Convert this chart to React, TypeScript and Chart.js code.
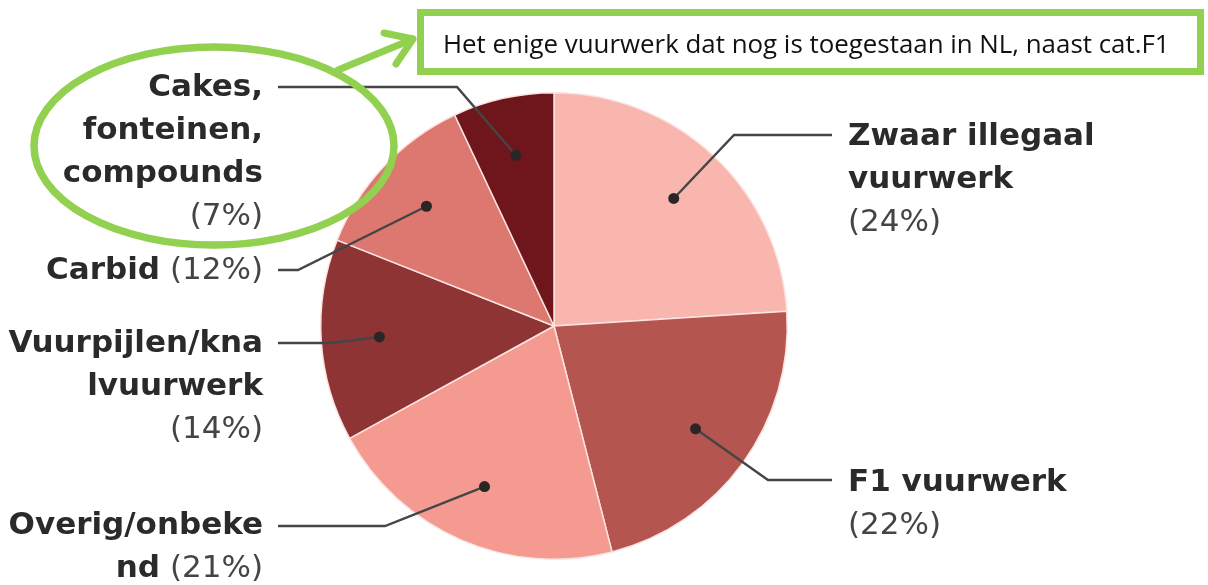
import React, { useEffect, useRef } from "react";
import { Chart, registerables } from "chart.js";

Chart.register(...registerables);

// ---- data ----
const categories = [
  "Zwaar illegaal vuurwerk",
  "F1 vuurwerk",
  "Overig/onbekend",
  "Vuurpijlen/knalvuurwerk",
  "Carbid",
  "Cakes, fonteinen, compounds",
];
const values = [24, 22, 21, 14, 12, 7];
const labelLines = [
  ["Zwaar illegaal", "vuurwerk"],
  ["F1 vuurwerk"],
  ["Overig/onbeke", "nd"],
  ["Vuurpijlen/kna", "lvuurwerk"],
  ["Carbid"],
  ["Cakes,", "fonteinen,", "compounds"],
];
const pctInline = [false, false, true, false, true, false];
const noteText = "Het enige vuurwerk dat nog is toegestaan in NL, naast cat.F1";

// ---- styles / layout ----
const colors = ["#f8b6ae", "#b55550", "#f59a91", "#8f3434", "#dc786f", "#6e161c"];
const layout = [
  { side: "right", x: 848, base: 145, leadY: 135, elbowX: 734 },
  { side: "right", x: 848, base: 491, leadY: 480, elbowX: 768 },
  { side: "left", x: 263, base: 534, leadY: 526, elbowX: 385 },
  { side: "left", x: 263, base: 352, leadY: 343, elbowX: 330 },
  { side: "left", x: 263, base: 279, leadY: 270, elbowX: 298 },
  { side: "left", x: 263, base: 96, leadY: 87, elbowX: 457 },
];
const LINE_H = 43;
const BOLD = "bold 31px 'DejaVu Sans'";
const REG = "31px 'DejaVu Sans'";
const GREEN = "#92d050";

const overlayPlugin = {
  id: "overlay",
  afterDatasetsDraw(chart: any) {
    const ctx: CanvasRenderingContext2D = chart.ctx;
    const meta = chart.getDatasetMeta(0);
    ctx.save();
    meta.data.forEach((arc: any, i: number) => {
      const p = arc.getProps(["x", "y", "startAngle", "endAngle", "outerRadius"], true);
      const mid = (p.startAngle + p.endAngle) / 2;
      const r = p.outerRadius * 0.75;
      const dx = p.x + Math.cos(mid) * r;
      const dy = p.y + Math.sin(mid) * r;
      const L = layout[i];
      const endX = L.side === "right" ? L.x - 16 : L.x + 15;
      // leader line
      ctx.strokeStyle = "#454545";
      ctx.lineWidth = 2.4;
      ctx.beginPath();
      ctx.moveTo(dx, dy);
      ctx.lineTo(L.elbowX, L.leadY);
      ctx.lineTo(endX, L.leadY);
      ctx.stroke();
      // dot
      ctx.fillStyle = "#2a2626";
      ctx.beginPath();
      ctx.arc(dx, dy, 5.5, 0, Math.PI * 2);
      ctx.fill();
      // text lines
      const pct = `(${values[i]}%)`;
      const lines: { t: string; b: boolean }[][] = labelLines[i].map((t) => [{ t, b: true }]);
      if (pctInline[i]) lines[lines.length - 1].push({ t: " " + pct, b: false });
      else lines.push([{ t: pct, b: false }]);
      ctx.textBaseline = "alphabetic";
      ctx.textAlign = "left";
      lines.forEach((segs, li) => {
        let total = 0;
        segs.forEach((s) => {
          ctx.font = s.b ? BOLD : REG;
          total += ctx.measureText(s.t).width;
        });
        let x = L.side === "right" ? L.x : L.x - total;
        const y = L.base + li * LINE_H;
        segs.forEach((s) => {
          ctx.font = s.b ? BOLD : REG;
          ctx.fillStyle = s.b ? "#2a2a2a" : "#444444";
          ctx.fillText(s.t, x, y);
          x += ctx.measureText(s.t).width;
        });
      });
    });

    // green annotation: ellipse
    ctx.strokeStyle = GREEN;
    ctx.lineWidth = 7.5;
    ctx.beginPath();
    ctx.ellipse(214, 146, 180, 99, 0, 0, Math.PI * 2);
    ctx.stroke();
    // arrow
    ctx.lineCap = "round";
    ctx.lineJoin = "round";
    ctx.lineWidth = 7;
    ctx.beginPath();
    ctx.moveTo(338, 70);
    ctx.lineTo(413, 39);
    ctx.moveTo(384, 33);
    ctx.lineTo(413, 39);
    ctx.lineTo(396, 64);
    ctx.stroke();
    ctx.lineCap = "butt";
    ctx.lineJoin = "miter";
    // box
    ctx.fillStyle = "#ffffff";
    ctx.fillRect(420, 12, 780, 60);
    ctx.lineWidth = 7;
    ctx.strokeRect(420.5, 12.5, 780, 59);
    ctx.font = "22px 'Open Sans'";
    const w = ctx.measureText(noteText).width;
    const size = (22 * 727) / w;
    ctx.font = `${size.toFixed(2)}px 'Open Sans'`;
    ctx.fillStyle = "#111111";
    ctx.fillText(noteText, 443, 53);
    ctx.restore();
  },
};

export default function App() {
  const ref = useRef<HTMLCanvasElement>(null);
  useEffect(() => {
    if (!ref.current) return;
    const chart = new Chart(ref.current, {
      type: "pie",
      data: {
        labels: categories,
        datasets: [
          {
            data: values,
            backgroundColor: colors,
            borderColor: "#fbe3df",
            borderWidth: 1.5,
          },
        ],
      },
      options: {
        responsive: false,
        animation: false,
        devicePixelRatio: 1,
        layout: { padding: { left: 320, right: 420, top: 92, bottom: 25 } },
        plugins: {
          legend: { display: false },
          tooltip: { enabled: false },
        },
      },
      plugins: [overlayPlugin],
    });
    return () => chart.destroy();
  }, []);
  return (
    <div style={{ position: "absolute", left: 0, top: 0, width: 1208, height: 585, background: "#fff" }}>
      <canvas ref={ref} width={1208} height={585} style={{ display: "block" }} />
    </div>
  );
}
